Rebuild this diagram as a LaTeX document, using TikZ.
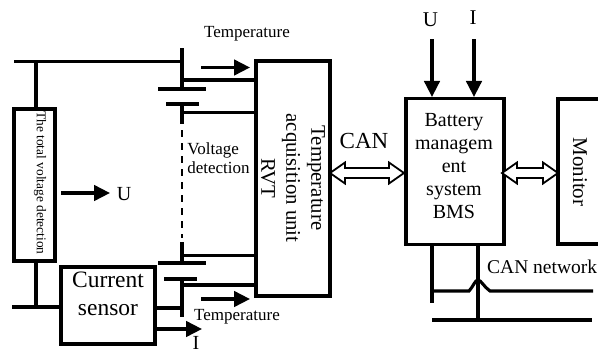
\documentclass[tikz,border=0pt]{standalone}
\usepackage{fontspec}
\setmainfont{Liberation Serif}
\usetikzlibrary{arrows.meta,positioning,shapes.arrows}
\tikzset{
  wire/.style={line width=3.1pt},
  boxnode/.style={draw,line width=3.1pt,inner sep=0pt,align=center},
  flow/.style={wire,-{Triangle[length=16pt,width=15.5pt]}},
  twoway/.style={draw,line width=1.8pt,fill=white,double arrow,inner sep=0pt,minimum width=21pt,
    double arrow head extend=1pt,double arrow tip angle=70},
  lbl/.style={inner sep=0pt,align=center}
}
\begin{document}
\begin{tikzpicture}[x=1pt,y=-1pt]
  \useasboundingbox (0,0) rectangle (598,354);

  % Boxes
  \node[boxnode,minimum width=41pt,minimum height=152pt] (totalbox) at (34.5,185) {};
  \node[boxnode,minimum width=94pt,minimum height=77pt] (sensorbox) at (108,305.5) {};
  \node[boxnode,minimum width=74pt,minimum height=235pt] (rvtbox) at (293,178.5) {};
  \node[boxnode,minimum width=98pt,minimum height=146pt] (bmsbox) at (455,171.5) {};
  \coordinate (monTL) at (558,99);
  \coordinate (monBL) at (558,244);
  \coordinate (monTR) at (598,99);
  \coordinate (monBR) at (598,244);
  \draw[wire] (monTR) -- (monTL) -- (monBL) -- (monBR);

  % Box texts
  \node[lbl,rotate=-90,font=\fontsize{13.4}{14}\selectfont] (totaltext) at (40,183) {The total voltage detection};
  \node[lbl,font=\fontsize{23.5}{28}\selectfont] (sensortext) at (108,294) {Current\\sensor};
  \node[lbl,rotate=-90,font=\fontsize{20.8}{25}\selectfont] (rvttext) at (293,178) {Temperature\\acquisition unit\\RVT};
  \node[lbl,font=\fontsize{20}{23}\selectfont] (bmstext) at (454,166) {Battery\\managem\\ent\\system\\BMS};
  \node[lbl,rotate=-90,font=\fontsize{21}{22}\selectfont] (montext) at (580,172) {Monitor};

  % Battery
  \coordinate (topin) at (14,61.5);
  \coordinate (topjoin) at (36,61.5);
  \coordinate (plateA) at (182,61.5);
  \coordinate (plateAtop) at (182,48);
  \coordinate (cellA) at (182,89);
  \coordinate (cellB) at (182,104);
  \coordinate (cellBend) at (182,124);
  \coordinate (dashA) at (182,130);
  \coordinate (dashB) at (182,238);
  \coordinate (cellC) at (182,242);
  \coordinate (cellD) at (182,263);
  \coordinate (cellE) at (182,279);
  \coordinate (cellEend) at (182,317);
  \draw[wire] (topin) -- (plateA);
  \draw[wire] (plateAtop) -- (cellA);
  \draw[wire] (158,89) -- (206,89);
  \draw[wire] (166,104) -- (199,104);
  \draw[wire] (cellB) -- (cellBend);
  \draw[line width=2.2pt,dash pattern=on 7pt off 6pt] (dashA) -- (dashB);
  \draw[wire] (cellC) -- (cellD);
  \draw[wire] (158,263) -- (206,263);
  \draw[wire] (164,279) -- (197,279);
  \draw[wire] (cellE) -- (cellEend);
  \coordinate (tapA) at (182,80);
  \coordinate (tapB) at (182,112.5);
  \coordinate (tapC) at (182,255.5);
  \coordinate (tapD) at (182,285);
  \draw[wire] (tapA) -- (tapA -| rvtbox.west);
  \draw[wire] (tapB) -- (tapB -| rvtbox.west);
  \draw[wire] (tapC) -- (tapC -| rvtbox.west);
  \draw[wire] (tapD) -- (tapD -| rvtbox.west);

  % Left wiring
  \coordinate (botin) at (12,307);
  \coordinate (botjoin) at (36,307);
  \coordinate (sensorout) at (182,308);
  \draw[wire] (topjoin) -- (totalbox.north -| topjoin);
  \draw[wire] (totalbox.south -| topjoin) -- (botjoin);
  \draw[wire] (botin) -- (botin -| sensorbox.west);
  \draw[wire] (sensorout -| sensorbox.east) -- (sensorout);

  % Arrows
  \coordinate (tempAa) at (201,67.5);
  \coordinate (tempAb) at (250,67.5);
  \coordinate (tempBa) at (201,299);
  \coordinate (tempBb) at (250,299);
  \coordinate (uleft) at (61,193);
  \coordinate (uright) at (110,193);
  \coordinate (iout) at (155,329);
  \coordinate (itip) at (202,329);
  \coordinate (uin) at (432,39);
  \coordinate (iin) at (474,39);
  \draw[flow] (tempAa) -- (tempAb);
  \draw[flow] (tempBa) -- (tempBb);
  \draw[flow] (uleft) -- (uright);
  \draw[flow] (iout) -- (itip);
  \draw[flow] (uin) -- (uin |- bmsbox.north);
  \draw[flow] (iin) -- (iin |- bmsbox.north);

  % Double arrows
  \node[twoway,minimum height=74pt] (canlink) at (367,173) {};
  \node[twoway,minimum height=56pt] (monlink) at (530,173) {};

  % Labels
  \node[lbl,font=\fontsize{17}{18}\selectfont] (tempA) at (247,34) {Temperature};
  \node[lbl,font=\fontsize{17}{18}\selectfont] (tempB) at (237,317) {Temperature};
  \node[lbl,font=\fontsize{20}{22}\selectfont] (ulabel) at (124,194) {U};
  \node[lbl,font=\fontsize{20}{22}\selectfont] (ilabel) at (196,343) {I};
  \node[lbl,font=\fontsize{21}{22}\selectfont] (utop) at (430.5,20) {U};
  \node[lbl,font=\fontsize{21}{22}\selectfont] (itop) at (473,18) {I};
  \node[lbl,font=\fontsize{23}{24}\selectfont] (can) at (364,141) {CAN};
  \node[lbl,align=left,font=\fontsize{17}{19}\selectfont] (volt) at (218.5,158) {Voltage\\detection};
  \node[lbl,font=\fontsize{19.5}{20}\selectfont,anchor=west] (cannet) at (487,267) {CAN network};

  % Bus
  \coordinate (busA) at (432,303);
  \coordinate (busB) at (478,320);
  \coordinate (busAin) at (432,291);
  \coordinate (busAout) at (593,291);
  \coordinate (busBin) at (432,320);
  \coordinate (busBout) at (592,320);
  \draw[wire] (busA |- bmsbox.south) -- (busA);
  \draw[wire] (busB |- bmsbox.south) -- (busB);
  \draw[wire] (busAin) -- (469,291) .. controls (473,287) and (475,280) .. (478,280) .. controls (481,280) and (484,287) .. (490,291) -- (busAout);
  \draw[wire] (busBin) -- (busBout);
\end{tikzpicture}
\end{document}
